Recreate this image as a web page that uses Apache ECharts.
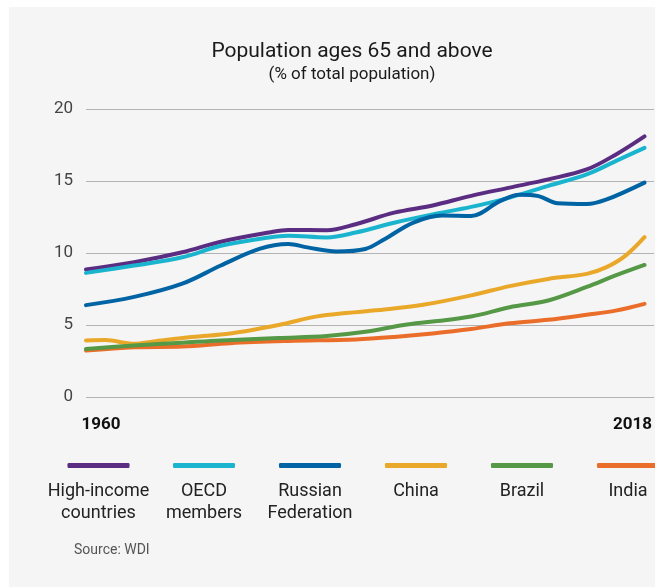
<!DOCTYPE html>
<html>
<head>
<meta charset="utf-8">
<script src="https://cdn.jsdelivr.net/npm/echarts@6/dist/echarts.min.js"></script>
<style>
  html, body { margin: 0; padding: 0; background: #ffffff; }
  #panel { position: absolute; left: 9px; top: 7px; width: 646px; height: 580px; background: #f5f5f5; }
  #chart { position: absolute; left: 0; top: 0; width: 655px; height: 587px; }
</style>
</head>
<body>
<div id="panel"></div>
<div id="chart"></div>
<script>
// ---- data (year, % of population 65+) ----
const seriesNames = ['High-income countries', 'OECD members', 'Russian Federation', 'China', 'Brazil', 'India'];
const legendLabels = ['High-income\ncountries', 'OECD\nmembers', 'Russian\nFederation', 'China', 'Brazil', 'India'];
const yTicks = [0, 5, 10, 15, 20];
const xTickLabels = [1960, 2018];

const highIncome = [[1960,8.85],[1965,9.36],[1970,10.05],[1974,10.78],[1979,11.42],[1981,11.6],[1985,11.58],[1988,12.0],[1992,12.8],[1996,13.3],[2000,13.97],[2004,14.54],[2008,15.11],[2012,15.8],[2015,16.83],[2018,18.1]];
const oecd = [[1960,8.62],[1965,9.13],[1970,9.7],[1974,10.5],[1979,11.08],[1981,11.2],[1985,11.08],[1988,11.42],[1992,12.1],[1996,12.68],[2000,13.2],[2004,13.85],[2008,14.66],[2012,15.46],[2015,16.38],[2018,17.3]];
const russia = [[1960,6.38],[1965,6.95],[1970,7.87],[1974,9.13],[1978,10.28],[1981,10.62],[1983,10.39],[1986,10.11],[1989,10.28],[1991,10.96],[1994,12.11],[1997,12.6],[2000,12.57],[2003,13.6],[2005,14.05],[2007,13.95],[2009,13.45],[2012,13.4],[2014,13.7],[2018,14.89]];
const china = [[1960,3.93],[1962,3.95],[1965,3.7],[1967,3.86],[1971,4.17],[1975,4.41],[1980,5.0],[1984,5.6],[1987,5.83],[1991,6.07],[1995,6.4],[2000,7.06],[2004,7.7],[2008,8.2],[2012,8.55],[2014,9.0],[2016,9.8],[2018,11.1]];
const brazil = [[1960,3.34],[1965,3.58],[1970,3.77],[1974,3.93],[1980,4.1],[1985,4.24],[1989,4.53],[1993,5.0],[1996,5.24],[2000,5.59],[2004,6.23],[2008,6.7],[2012,7.64],[2015,8.44],[2018,9.17]];
const india = [[1960,3.22],[1965,3.46],[1970,3.5],[1975,3.74],[1981,3.89],[1988,4.0],[1992,4.17],[1996,4.41],[2000,4.72],[2004,5.12],[2008,5.36],[2012,5.71],[2015,6.0],[2018,6.47]];

const seriesData = [highIncome, oecd, russia, china, brazil, india];
const colors = ['#5a2d82', '#1ab4cf', '#0064a4', '#eaa82a', '#559845', '#ea6e29'];
const drawOrder = [0, 1, 2, 3, 5, 4];

const legendCenters = [98.5, 204, 310, 416, 522, 628];
const iconW = 62;

const chart = echarts.init(document.getElementById('chart'), null, { renderer: 'canvas' });

const FONT = 'Roboto, "Noto Sans", sans-serif';

const series = drawOrder.map(i => ({
  name: seriesNames[i],
  type: 'line',
  data: seriesData[i],
  smooth: 0.35,
  showSymbol: false,
  symbol: 'none',
  color: colors[i],
  lineStyle: { width: 4, color: colors[i], cap: 'round', join: 'round' },
  emphasis: { disabled: true },
  z: 2 + drawOrder.indexOf(i)
}));

const legends = seriesNames.map((name, i) => ({
  data: [{ name: name, icon: 'roundRect' }],
  left: legendCenters[i] - iconW / 2,
  top: 463,
  padding: 0,
  itemWidth: iconW,
  itemHeight: 5,
  itemGap: 0,
  formatter: () => '',
  selectedMode: false,
  textStyle: { fontSize: 1 }
}));

const graphics = legendLabels.map((t, i) => ({
  type: 'text',
  x: legendCenters[i],
  y: 480,
  style: {
    text: t,
    fill: '#222222',
    font: '18px ' + FONT,
    textAlign: 'center',
    lineHeight: 22
  }
}));
graphics.push({
  type: 'text',
  x: 74,
  y: 543,
  style: { text: 'Source: WDI', fill: '#555555', font: '14px ' + FONT, textAlign: 'left' }
});

chart.setOption({
  animation: false,
  backgroundColor: 'transparent',
  textStyle: { fontFamily: FONT },
  title: {
    text: 'Population ages 65 and above',
    subtext: '(% of total population)',
    left: 352,
    top: 41,
    textAlign: 'center',
    itemGap: 4,
    padding: 0,
    textStyle: { fontSize: 21, fontWeight: 'normal', color: '#1a1a1a', fontFamily: FONT },
    subtextStyle: { fontSize: 17, color: '#1a1a1a', fontFamily: FONT }
  },
  legend: legends,
  grid: { left: 86, right: 0, top: 109, bottom: 190, containLabel: false },
  xAxis: {
    type: 'value',
    min: 1960,
    max: 2019,
    axisLine: { show: false },
    axisTick: { show: false },
    splitLine: { show: false },
    axisLabel: {
      customValues: xTickLabels,
      margin: 19,
      fontSize: 17,
      fontWeight: 'bold',
      color: '#111111',
      fontFamily: FONT,
      formatter: v => (v === 1960 ? '{l|' + v + '}' : '{r|' + v + '}'),
      rich: {
        l: { padding: [0, 0, 0, 30], fontSize: 17, fontWeight: 'bold', color: '#111111', fontFamily: FONT },
        r: { padding: [0, 24, 0, 0], fontSize: 17, fontWeight: 'bold', color: '#111111', fontFamily: FONT }
      }
    }
  },
  yAxis: {
    type: 'value',
    min: 0,
    max: 20,
    interval: 5,
    axisLine: { show: false },
    axisTick: { show: false },
    axisLabel: { margin: 13, fontSize: 17, color: '#444444', fontFamily: FONT },
    splitLine: { lineStyle: { color: '#b3b3b3', width: 1 } }
  },
  graphic: graphics,
  series: series
});
</script>
</body>
</html>
